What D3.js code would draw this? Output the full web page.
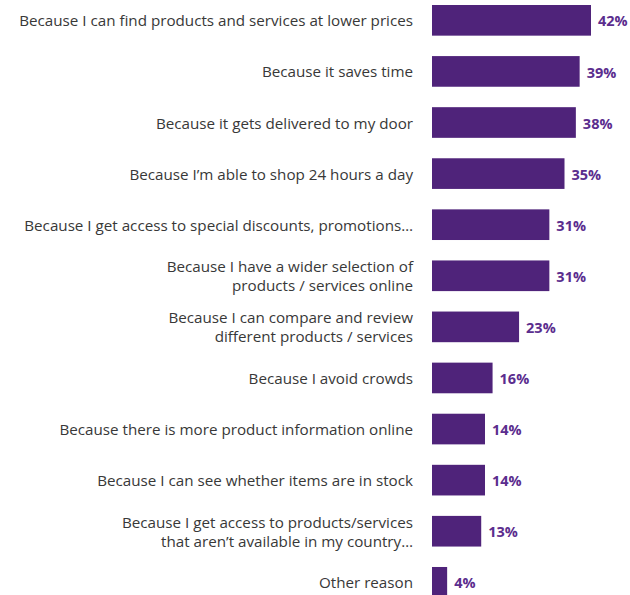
<!DOCTYPE html>
<html>
<head>
<meta charset="utf-8">
<script src="https://cdn.jsdelivr.net/npm/d3@7"></script>
<style>
  html, body { margin: 0; padding: 0; background: #fff; }
  svg { display: block; }
</style>
</head>
<body>
<div id="chart"></div>
<script>
// Reasons for shopping online (share of respondents, %)
const reasons = [
  ["Because I can find products and services at lower prices"],
  ["Because it saves time"],
  ["Because it gets delivered to my door"],
  ["Because I\u2019m able to shop 24 hours a day"],
  ["Because I get access to special discounts, promotions\u2026"],
  ["Because I have a wider selection of", "products / services online"],
  ["Because I can compare and review", "different products / services"],
  ["Because I avoid crowds"],
  ["Because there is more product information online"],
  ["Because I can see whether items are in stock"],
  ["Because I get access to products/services", "that aren\u2019t available in my country\u2026"],
  ["Other reason"]
];
const shares = [42, 39, 38, 35, 31, 31, 23, 16, 14, 14, 13, 4];

const width = 630, height = 595;
const barLeft = 432;
const labelRight = 413;
const step = 51.09;

const svg = d3.select("#chart").append("svg")
  .attr("width", width)
  .attr("height", height);

const x = d3.scaleLinear().domain([0, 42]).range([barLeft, 591]);
const y = d3.scaleBand()
  .domain(d3.range(reasons.length))
  .range([5, 5 + step * (reasons.length - 0.4)])
  .paddingInner(0.4)
  .paddingOuter(0);

const row = svg.selectAll("g.row")
  .data(shares)
  .join("g")
  .attr("class", "row");

row.append("rect")
  .attr("x", x(0))
  .attr("y", (d, i) => y(i))
  .attr("width", d => x(d) - x(0))
  .attr("height", y.bandwidth())
  .attr("fill", "#4f237a");

row.append("text")
  .attr("x", d => x(d) + 7)
  .attr("y", (d, i) => y(i) + y.bandwidth() / 2)
  .attr("dy", "0.42em")
  .attr("font-family", "'Open Sans', sans-serif")
  .attr("font-weight", 700)
  .attr("font-size", 14.5)
  .attr("fill", "#5b2d8e")
  .text(d => d + "%");

const lineH = 19;
row.append("text")
  .attr("text-anchor", "end")
  .attr("font-family", "'Open Sans', sans-serif")
  .attr("font-size", 15.2)
  .attr("fill", "#383838")
  .each(function (d, i) {
    const lines = reasons[i];
    const cy = y(i) + y.bandwidth() / 2;
    const t = d3.select(this);
    lines.forEach((ln, k) => {
      t.append("tspan")
        .attr("x", labelRight)
        .attr("y", cy + (k - (lines.length - 1) / 2) * lineH)
        .attr("dy", "0.4em")
        .text(ln);
    });
  });
</script>
</body>
</html>
